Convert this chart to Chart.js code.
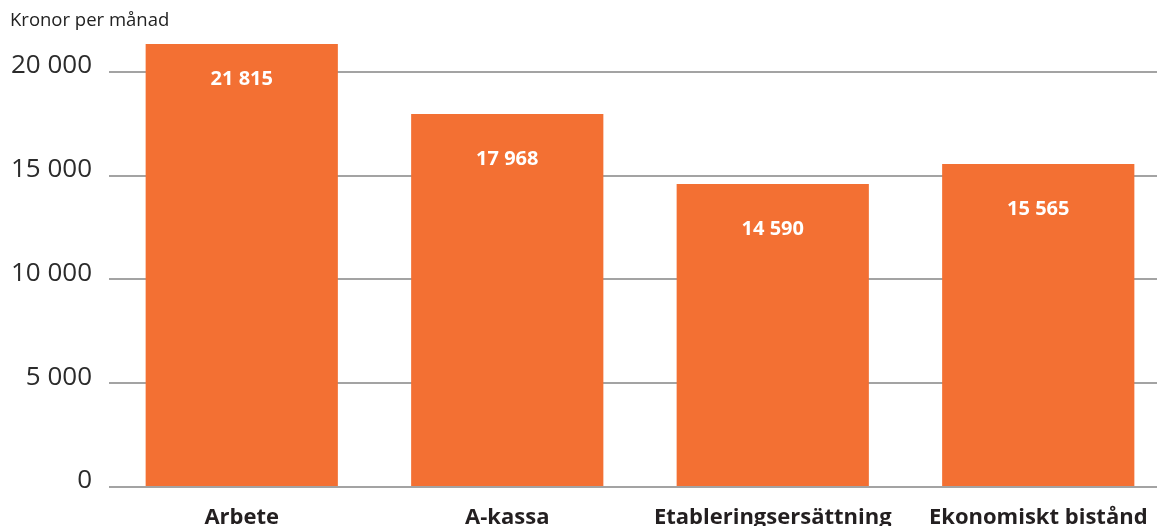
<!DOCTYPE html>
<html lang="sv">
<head>
<meta charset="utf-8">
<title>Kronor per månad</title>
<script src="https://cdn.jsdelivr.net/npm/chart.js@4/dist/chart.umd.min.js"></script>
<style>
  html, body { margin: 0; padding: 0; background: #fff; overflow: hidden; }
  #wrap { width: 1171px; height: 526px; }
</style>
</head>
<body>
<div id="wrap"><canvas id="chart"></canvas></div>
<script>
// ── DATA ──
const categories = ['Arbete', 'A-kassa', 'Etableringsersättning', 'Ekonomiskt bistånd'];
const values     = [21815, 17968, 14590, 15565];
const yTicks     = [0, 5000, 10000, 15000, 20000];

const FONT = "'Open Sans', sans-serif";
const ORANGE = '#f37033';

// swedish thousands: "21 815"
const fmt = v => String(v).replace(/\B(?=(\d{3})+(?!\d))/g, ' ');

// ── VALUE LABELS INSIDE BARS ──
const barLabels = {
  id: 'barLabels',
  afterDatasetsDraw(chart) {
    const { ctx } = chart;
    const meta = chart.getDatasetMeta(0);
    const y = chart.scales.y;
    ctx.save();
    ctx.fillStyle = '#ffffff';
    ctx.font = `bold 20px ${FONT}`;
    ctx.textAlign = 'center';
    ctx.textBaseline = 'middle';
    meta.data.forEach((bar, i) => {
      ctx.fillText(fmt(values[i]), bar.x, y.getPixelForValue(values[i]) + 45);
    });
    ctx.restore();
  }
};

new Chart(document.getElementById('chart'), {
  type: 'bar',
  data: {
    labels: categories,
    datasets: [{
      data: values,
      backgroundColor: ORANGE,
      borderWidth: 0,
      categoryPercentage: 1,
      barPercentage: 0.724
    }]
  },
  options: {
    animation: false,
    responsive: true,
    maintainAspectRatio: false,
    layout: { padding: { left: 10, right: 0, top: 0, bottom: 0 } },
    plugins: {
      legend: { display: false },
      tooltip: { enabled: false },
      title: {
        display: true,
        text: 'Kronor per månad',
        align: 'start',
        color: '#222',
        font: { family: FONT, size: 18.5, weight: 'normal' },
        padding: { top: 10, bottom: 11.8 }
      }
    },
    scales: {
      x: {
        grid: { display: false },
        border: { display: false },
        ticks: {
          color: '#231f20',
          font: { family: FONT, size: 22, weight: 'bold' },
          padding: 10,
          maxRotation: 0,
          autoSkip: false
        },
        afterFit: s => { s.height = 39; }
      },
      y: {
        min: 0,
        max: 21340,
        afterBuildTicks: axis => { axis.ticks = yTicks.map(v => ({ value: v })); },
        grid: { color: '#a3a3a3', lineWidth: 2, drawTicks: false },
        border: { display: false },
        ticks: {
          color: '#2b2b2b',
          font: { family: FONT, size: 26, weight: 'normal' },
          padding: 17,
          labelOffset: -6,
          callback: v => fmt(v)
        },
        afterFit: s => { s.width = 99; }
      }
    }
  },
  plugins: [barLabels]
});
</script>
</body>
</html>
